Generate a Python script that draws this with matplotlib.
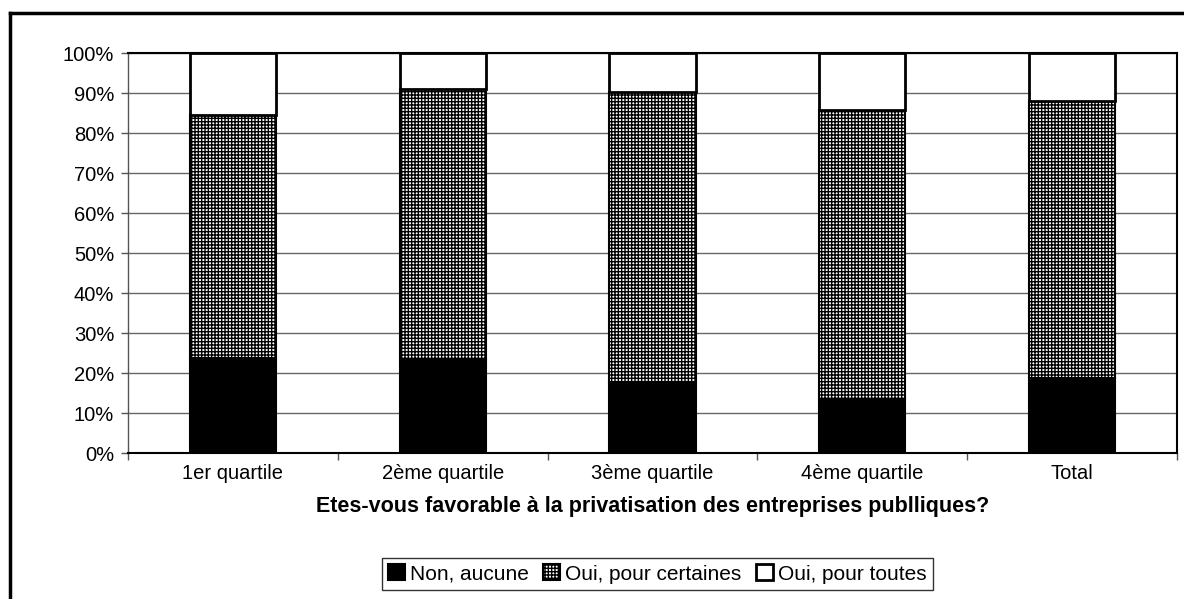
import numpy as np
import matplotlib.pyplot as plt
from matplotlib.lines import Line2D

plt.rcParams['font.family'] = ['Liberation Sans', 'DejaVu Sans']
plt.rcParams['hatch.linewidth'] = 1.0

# Data (percent)
categories = ['1er quartile', '2ème quartile', '3ème quartile', '4ème quartile', 'Total']
non_aucune = [23.8, 23.3, 17.8, 13.5, 18.8]
oui_certaines = [60.6, 67.7, 72.5, 72.2, 69.2]
oui_toutes = [15.6, 9.0, 9.7, 14.3, 12.0]
legend_labels = ['Non, aucune', 'Oui, pour certaines', 'Oui, pour toutes']
xlabel = 'Etes-vous favorable à la privatisation des entreprises publliques?'

fig = plt.figure(figsize=(11.84, 5.99), dpi=100)
ax = fig.add_axes([0.1081, 0.2437, 0.886, 0.6678])

x = np.arange(len(categories))
w = 0.41
b1 = np.array(non_aucune)
b2 = b1 + np.array(oui_certaines)

ax.bar(x, non_aucune, w, color='black', edgecolor='black', linewidth=1.5,
       label=legend_labels[0], zorder=3)
ax.bar(x, oui_certaines, w, bottom=b1, color='white', edgecolor='black',
       hatch='+++++', linewidth=1.5, label=legend_labels[1], zorder=3)
ax.bar(x, oui_toutes, w, bottom=b2, color='white', edgecolor='black',
       linewidth=2, label=legend_labels[2], zorder=3)

ax.set_xlim(-0.5, len(categories) - 0.5)
ax.set_ylim(0, 100)
ax.set_yticks(np.arange(0, 101, 10))
ax.set_yticklabels([f'{v}%' for v in range(0, 101, 10)], fontsize=14.5)
ax.set_xticks(x)
ax.set_xticklabels(categories, fontsize=14.5)
ax.set_xticks(np.arange(-0.5, len(categories), 1), minor=True)
ax.tick_params(axis='x', which='major', length=0, pad=8)
ax.tick_params(axis='x', which='minor', length=5, width=1, color='#555555')
ax.tick_params(axis='y', length=5, width=1, color='#555555', pad=5)
ax.yaxis.grid(True, color='#666666', linewidth=1, zorder=0)
ax.set_axisbelow(True)
for s in ax.spines.values():
    s.set_color('black')
    s.set_linewidth(1.5)
ax.spines['left'].set_color('#555555')
ax.spines['left'].set_linewidth(1)

ax.set_xlabel(xlabel, fontsize=15.5, fontweight='bold', labelpad=9)

leg = fig.legend(loc='center', bbox_to_anchor=(0.555, 0.0417), ncol=3,
                 fontsize=15, frameon=True, fancybox=False, handlelength=0.8,
                 handleheight=0.8, handletextpad=0.25, columnspacing=0.7,
                 borderpad=0.3, borderaxespad=0)
leg.get_frame().set_edgecolor('black')
leg.get_frame().set_linewidth(1)

# outer chart frame (cropped)
fig.add_artist(Line2D([10 / 1184, 1], [1 - 13 / 599, 1 - 13 / 599],
                      color='black', linewidth=2.5, transform=fig.transFigure))
fig.add_artist(Line2D([10 / 1184, 10 / 1184], [0, 1 - 13 / 599],
                      color='black', linewidth=2.5, transform=fig.transFigure))

fig.savefig('out.png', dpi=100)
